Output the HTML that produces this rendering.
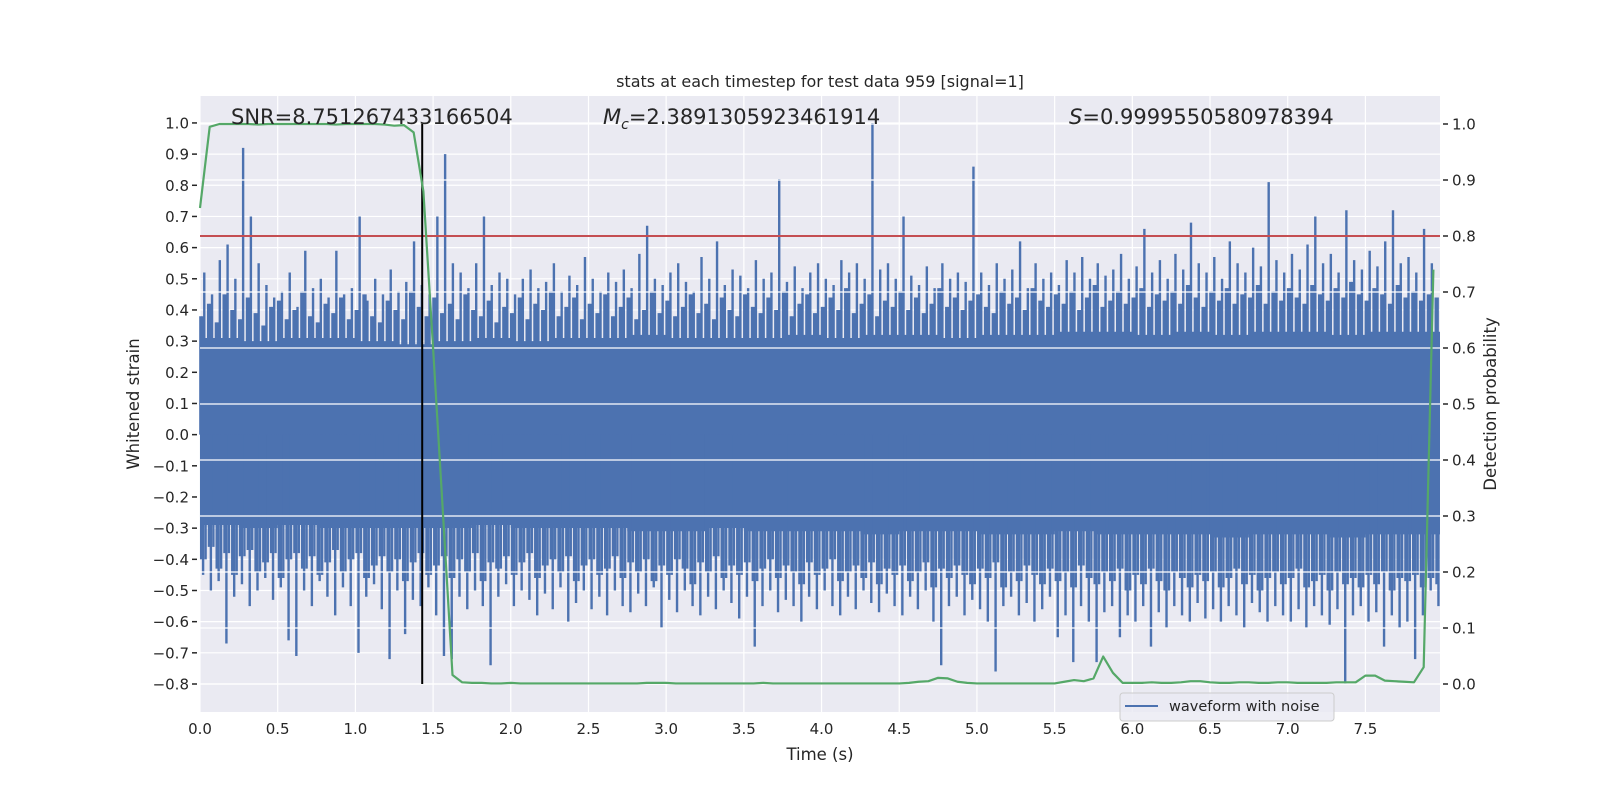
<!DOCTYPE html>
<html><head><meta charset="utf-8"><style>
html,body{margin:0;padding:0;background:#fff;}
svg text{font-family:"DejaVu Sans","Liberation Sans",sans-serif;fill:#262626;}
</style></head><body>
<svg id="chart" width="1600" height="800" xmlns="http://www.w3.org/2000/svg">
<rect x="0" y="0" width="1600" height="800" fill="#fff"/>
<g id="plot"></g>
</svg>
<script>
// ---- data ----
const xTicks = [0.0,0.5,1.0,1.5,2.0,2.5,3.0,3.5,4.0,4.5,5.0,5.5,6.0,6.5,7.0,7.5];
const yLeftTicks = [-0.8,-0.7,-0.6,-0.5,-0.4,-0.3,-0.2,-0.1,0.0,0.1,0.2,0.3,0.4,0.5,0.6,0.7,0.8,0.9,1.0];
const yRightTicks = [0.0,0.1,0.2,0.3,0.4,0.5,0.6,0.7,0.8,0.9,1.0];
const binWidth = 0.05;
const peakUpper = [0.52,0.45,0.56,0.61,0.50,0.92,0.70,0.55,0.48,0.44,
0.46,0.52,0.41,0.59,0.47,0.50,0.44,0.59,0.45,0.47,
0.70,0.43,0.50,0.45,0.53,0.46,0.49,0.62,0.48,0.45,
0.70,0.90,0.55,0.52,0.47,0.55,0.70,0.48,0.52,0.50,
0.45,0.50,0.53,0.47,0.49,0.55,0.46,0.51,0.48,0.57,
0.50,0.46,0.52,0.49,0.53,0.47,0.58,0.67,0.50,0.48,
0.52,0.55,0.49,0.46,0.57,0.50,0.62,0.48,0.53,0.51,
0.47,0.56,0.50,0.52,0.82,0.49,0.54,0.47,0.52,0.55,
0.50,0.48,0.56,0.52,0.55,0.50,1.00,0.53,0.55,0.50,
0.70,0.51,0.48,0.54,0.47,0.55,0.50,0.52,0.49,0.86,
0.52,0.48,0.55,0.50,0.53,0.62,0.47,0.55,0.50,0.52,
0.48,0.56,0.52,0.57,0.50,0.55,0.51,0.53,0.58,0.50,
0.54,0.66,0.52,0.56,0.50,0.58,0.53,0.68,0.55,0.52,
0.57,0.50,0.62,0.55,0.52,0.60,0.54,0.81,0.56,0.52,
0.58,0.53,0.61,0.70,0.55,0.58,0.52,0.72,0.56,0.53,
0.59,0.54,0.62,0.72,0.55,0.57,0.52,0.66,0.55,0.50];
const peakLower = [-0.45,-0.50,-0.47,-0.67,-0.52,-0.48,-0.55,-0.50,-0.46,-0.53,
-0.49,-0.66,-0.71,-0.50,-0.55,-0.47,-0.52,-0.58,-0.49,-0.55,
-0.70,-0.52,-0.48,-0.56,-0.72,-0.50,-0.64,-0.53,-0.55,-0.49,
-0.58,-0.71,-0.72,-0.52,-0.56,-0.50,-0.55,-0.74,-0.52,-0.48,
-0.55,-0.50,-0.53,-0.58,-0.51,-0.56,-0.49,-0.60,-0.54,-0.50,
-0.56,-0.52,-0.58,-0.50,-0.55,-0.57,-0.51,-0.55,-0.49,-0.62,
-0.53,-0.57,-0.50,-0.55,-0.58,-0.52,-0.56,-0.50,-0.54,-0.59,
-0.52,-0.68,-0.55,-0.50,-0.57,-0.53,-0.55,-0.60,-0.52,-0.56,
-0.50,-0.55,-0.58,-0.52,-0.56,-0.50,-0.54,-0.57,-0.51,-0.55,
-0.58,-0.52,-0.56,-0.50,-0.60,-0.74,-0.55,-0.52,-0.58,-0.53,
-0.56,-0.60,-0.76,-0.55,-0.52,-0.58,-0.54,-0.60,-0.56,-0.52,
-0.65,-0.58,-0.73,-0.55,-0.60,-0.73,-0.57,-0.55,-0.65,-0.58,
-0.60,-0.55,-0.68,-0.57,-0.62,-0.55,-0.58,-0.60,-0.54,-0.59,
-0.56,-0.60,-0.55,-0.58,-0.62,-0.54,-0.57,-0.60,-0.55,-0.58,
-0.60,-0.56,-0.62,-0.55,-0.58,-0.61,-0.56,-0.80,-0.58,-0.55,
-0.60,-0.57,-0.68,-0.58,-0.62,-0.60,-0.72,-0.58,-0.50,-0.55];
const secondUpper = [0.38,0.42,0.36,0.45,0.40,0.37,0.44,0.39,0.35,0.41,
0.43,0.37,0.40,0.46,0.38,0.36,0.42,0.39,0.44,0.37,
0.40,0.45,0.38,0.36,0.43,0.40,0.37,0.46,0.41,0.38,
0.44,0.39,0.42,0.37,0.45,0.40,0.38,0.43,0.36,0.41,
0.39,0.44,0.37,0.42,0.40,0.46,0.38,0.41,0.44,0.37,
0.42,0.39,0.45,0.38,0.41,0.44,0.37,0.40,0.46,0.39,
0.43,0.38,0.41,0.45,0.39,0.42,0.37,0.44,0.40,0.38,
0.45,0.41,0.39,0.44,0.40,0.46,0.38,0.42,0.45,0.39,
0.41,0.44,0.40,0.47,0.39,0.42,0.45,0.38,0.43,0.41,
0.46,0.40,0.44,0.39,0.42,0.47,0.41,0.44,0.40,0.43,
0.45,0.41,0.39,0.46,0.42,0.44,0.40,0.47,0.43,0.41,
0.45,0.42,0.46,0.40,0.44,0.48,0.41,0.43,0.46,0.42,
0.44,0.47,0.41,0.45,0.43,0.46,0.42,0.48,0.44,0.41,
0.46,0.43,0.47,0.42,0.45,0.44,0.48,0.42,0.46,0.43,
0.47,0.44,0.42,0.48,0.45,0.43,0.47,0.44,0.49,0.45,
0.43,0.47,0.45,0.42,0.48,0.44,0.46,0.43,0.45,0.44];
const secondLower = [-0.40,-0.36,-0.43,-0.38,-0.45,-0.39,-0.37,-0.44,-0.41,-0.38,
-0.46,-0.40,-0.38,-0.43,-0.39,-0.45,-0.41,-0.37,-0.44,-0.40,
-0.38,-0.46,-0.42,-0.39,-0.44,-0.40,-0.47,-0.41,-0.38,-0.45,
-0.42,-0.39,-0.46,-0.40,-0.44,-0.38,-0.47,-0.41,-0.43,-0.39,
-0.45,-0.41,-0.38,-0.46,-0.42,-0.40,-0.44,-0.39,-0.47,-0.42,
-0.40,-0.45,-0.43,-0.39,-0.46,-0.41,-0.44,-0.40,-0.47,-0.42,
-0.45,-0.40,-0.43,-0.48,-0.41,-0.44,-0.39,-0.46,-0.42,-0.45,
-0.41,-0.47,-0.43,-0.40,-0.46,-0.42,-0.44,-0.48,-0.41,-0.45,
-0.43,-0.40,-0.47,-0.44,-0.42,-0.46,-0.41,-0.48,-0.43,-0.45,
-0.42,-0.47,-0.44,-0.41,-0.49,-0.43,-0.46,-0.42,-0.45,-0.48,
-0.43,-0.46,-0.41,-0.49,-0.44,-0.47,-0.42,-0.45,-0.48,-0.43,
-0.47,-0.44,-0.49,-0.42,-0.46,-0.48,-0.44,-0.47,-0.43,-0.50,
-0.45,-0.48,-0.43,-0.47,-0.50,-0.44,-0.46,-0.49,-0.45,-0.47,
-0.44,-0.49,-0.46,-0.43,-0.48,-0.45,-0.50,-0.46,-0.44,-0.48,
-0.46,-0.43,-0.49,-0.47,-0.45,-0.50,-0.44,-0.48,-0.46,-0.49,
-0.45,-0.48,-0.44,-0.50,-0.46,-0.47,-0.45,-0.49,-0.46,-0.48];
const denseStep = 0.25;
const denseUpper = [0.31,0.30,0.31,0.31,0.30,0.29,0.30,0.31,0.30,0.31,0.31,0.32,0.31,0.31,0.31,0.32,0.31,0.32,0.32,0.31,0.32,0.32,0.33,0.33,0.32,0.33,0.32,0.33,0.33,0.32,0.33,0.33];
const denseLower = [-0.29,-0.30,-0.29,-0.30,-0.30,-0.30,-0.30,-0.29,-0.30,-0.30,-0.30,-0.31,-0.31,-0.30,-0.31,-0.31,-0.31,-0.32,-0.31,-0.31,-0.32,-0.32,-0.31,-0.32,-0.32,-0.32,-0.33,-0.32,-0.32,-0.33,-0.32,-0.32];
const probStep = 0.0625;
const probValues = [0.85,0.995,1.0,1.0,1.0,1.0,0.999,1.0,1.0,1.0,
1.0,1.0,1.0,1.0,0.999,1.0,1.0,1.0,1.0,0.999,
0.997,0.998,0.985,0.88,0.60,0.31,0.016,0.003,0.002,0.002,
0.001,0.001,0.002,0.001,0.001,0.001,0.001,0.001,0.001,0.001,
0.001,0.001,0.001,0.001,0.001,0.001,0.002,0.002,0.002,0.001,
0.001,0.001,0.001,0.001,0.001,0.001,0.001,0.001,0.002,0.001,
0.001,0.001,0.001,0.001,0.001,0.001,0.001,0.001,0.001,0.001,
0.001,0.001,0.001,0.002,0.004,0.005,0.011,0.010,0.004,0.002,
0.001,0.001,0.001,0.001,0.001,0.001,0.001,0.001,0.001,0.004,
0.007,0.005,0.010,0.049,0.020,0.002,0.002,0.002,0.003,0.002,
0.002,0.003,0.005,0.005,0.003,0.002,0.002,0.003,0.003,0.002,
0.002,0.003,0.003,0.002,0.002,0.002,0.002,0.003,0.003,0.003,
0.015,0.015,0.006,0.005,0.004,0.003,0.03,0.74];
const threshold = 0.8;
const eventTime = 1.43;

// ---- scales ----
const X0=200, X1=1440, Y0=96, Y1=712;
const xMax=7.98;
const xS = t => X0 + t/xMax*(X1-X0);
const yL = v => 684 - (v+0.8)*311.7;
const yR = p => 684 - p*560;
const NS="http://www.w3.org/2000/svg";
const g=document.getElementById('plot');
function el(tag, attrs, parent){const e=document.createElementNS(NS,tag);for(const k in attrs)e.setAttribute(k,attrs[k]);(parent||g).appendChild(e);return e;}
const fmt=v=>(v<0?'\u2212':'')+Math.abs(v).toFixed(1);

const bg=el('rect',{x:X0,y:Y0,width:X1-X0,height:Y1-Y0,fill:'#eaeaf2'});



xTicks.forEach(t=>{const l=el('line',{x1:xS(t),x2:xS(t),y1:Y0,y2:Y1,stroke:'#fff','stroke-width':1.2});

});
yLeftTicks.forEach(v=>{const l=el('line',{x1:X0,x2:X1,y1:yL(v),y2:yL(v),stroke:'#fff','stroke-width':1.2});

});

// waveform
const wf=el('g',{});


let d='M'+xS(0)+','+yL(denseUpper[0]);
denseUpper.forEach((v,i)=>{const a=Math.min(xS(i*denseStep),X1),b=Math.min(xS((i+1)*denseStep),X1);d+=' L'+a+','+yL(v)+' L'+b+','+yL(v);});
for(let i=denseLower.length-1;i>=0;i--){const a=Math.min(xS(i*denseStep),X1),b=Math.min(xS((i+1)*denseStep),X1);d+=' L'+b+','+yL(denseLower[i])+' L'+a+','+yL(denseLower[i]);}
d+='Z';
const core=el('path',{d:d,fill:'#4c72b0'},wf);


function spikes(arr, offset, name){
  arr.forEach((v,i)=>{const x=xS((i+offset)*binWidth);if(x>X1-1)return;
  const l=el('line',{x1:x,x2:x,y1:yL(0),y2:yL(v),stroke:'#4c72b0','stroke-width':2.4},wf);
  
  });
}
spikes(secondUpper,0.05,'waveform-spike');
spikes(secondUpper,0.30,'waveform-spike');
spikes(secondLower,0.15,'waveform-spike');
spikes(secondLower,0.72,'waveform-spike');
spikes(peakUpper,0.55,'waveform-peak');
spikes(peakLower,0.40,'waveform-trough');

// right grid (drawn over waveform)
yRightTicks.forEach(p=>{const l=el('line',{x1:X0,x2:X1,y1:yR(p),y2:yR(p),stroke:'#fff','stroke-width':1.2});

});

const th=el('line',{x1:X0,x2:X1,y1:yR(threshold),y2:yR(threshold),stroke:'#c44e52','stroke-width':2});


const ev=el('line',{x1:xS(eventTime),x2:xS(eventTime),y1:yR(1),y2:yR(0),stroke:'#000','stroke-width':2});


const pts=probValues.map((p,i)=>xS(i*probStep)+','+yR(p)).join(' ');
const pl=el('polyline',{points:pts,fill:'none',stroke:'#55a868','stroke-width':2.2,'stroke-linejoin':'round'});



xTicks.forEach(t=>{const tx=el('text',{x:xS(t),y:734,'font-size':15,'text-anchor':'middle'});tx.textContent=t.toFixed(1);

});
yLeftTicks.forEach(v=>{el('line',{x1:X0-8,x2:X0-3,y1:yL(v),y2:yL(v),stroke:'#262626','stroke-width':1.5});
const tx=el('text',{x:X0-11,y:yL(v)+5.5,'font-size':15,'text-anchor':'end'});tx.textContent=fmt(v);

});
yRightTicks.forEach(p=>{el('line',{x1:X1+3,x2:X1+8,y1:yR(p),y2:yR(p),stroke:'#262626','stroke-width':1.5});
const tx=el('text',{x:X1+12,y:yR(p)+5.5,'font-size':15,'text-anchor':'start'});tx.textContent=p.toFixed(1);

});
</script>
<script>
const s=document.getElementById('chart');
function T(attrs,txt,html){const e=document.createElementNS("http://www.w3.org/2000/svg",'text');for(const k in attrs)e.setAttribute(k,attrs[k]);if(html)e.innerHTML=txt;else e.textContent=txt;s.appendChild(e);return e;}
let t;
t=T({x:820,y:87,'font-size':16,'text-anchor':'middle'},'stats at each timestep for test data 959 [signal=1]');


t=T({x:820,y:760,'font-size':16.5,'text-anchor':'middle'},'Time (s)');


t=T({x:0,y:0,'font-size':16.5,'text-anchor':'middle',transform:'translate(139,404) rotate(-90)'},'Whitened strain');


t=T({x:0,y:0,'font-size':16.5,'text-anchor':'middle',transform:'translate(1496,404) rotate(-90)'},'Detection probability');


t=T({x:231,y:124,'font-size':21},'SNR=8.751267433166504');


t=T({x:603,y:124,'font-size':21},'<tspan font-style="italic">M</tspan><tspan font-size="14" dy="5" font-style="italic">c</tspan><tspan dy="-5">=2.3891305923461914</tspan>',true);


t=T({x:1069,y:124,'font-size':21},'<tspan font-style="italic">S</tspan>=0.9999550580978394',true);


const NS2="http://www.w3.org/2000/svg";
const lg=document.createElementNS(NS2,'g');s.appendChild(lg);


const r=document.createElementNS(NS2,'rect');
r.setAttribute('x',1120);r.setAttribute('y',693);r.setAttribute('width',214);r.setAttribute('height',28);r.setAttribute('rx',3);
r.setAttribute('fill','#eaeaf2');r.setAttribute('fill-opacity','0.8');r.setAttribute('stroke','#cccccc');
lg.appendChild(r);
const ln=document.createElementNS(NS2,'line');
ln.setAttribute('x1',1125);ln.setAttribute('x2',1158);ln.setAttribute('y1',706);ln.setAttribute('y2',706);ln.setAttribute('stroke','#4c72b0');ln.setAttribute('stroke-width',2);
lg.appendChild(ln);
const lt=document.createElementNS(NS2,'text');
lt.setAttribute('x',1169);lt.setAttribute('y',711);lt.setAttribute('font-size',14.5);lt.textContent='waveform with noise';


lg.appendChild(lt);
</script>
</body></html>
